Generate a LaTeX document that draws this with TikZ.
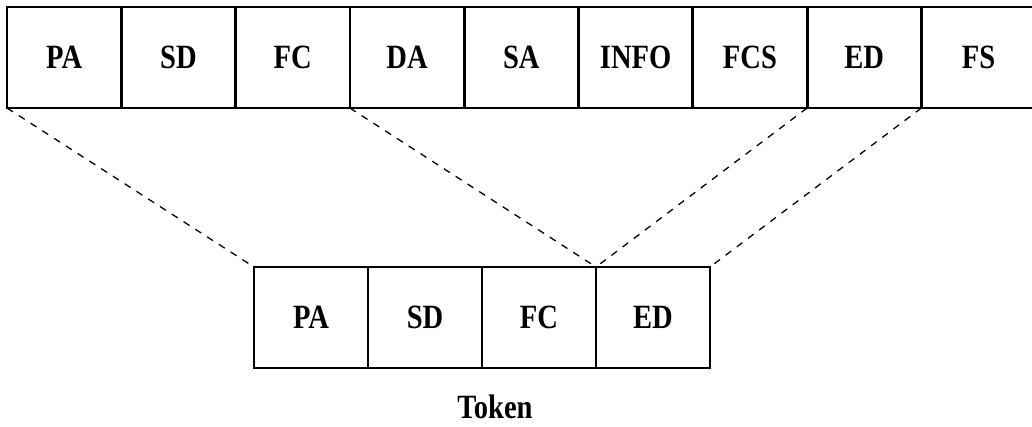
\documentclass[tikz,border=0pt]{standalone}
\usepackage{fontspec}
\setmainfont{Liberation Serif}
\newfontfamily\lblfont[FakeStretch=0.84]{Liberation Serif}
\begin{document}
\begin{tikzpicture}[x=1pt,y=-1pt,
  lbl/.style={font=\lblfont\fontsize{34}{37}\selectfont\bfseries},
  cell/.style={lbl,draw=black,line width=2.8pt,minimum width=114.3pt,minimum height=101pt,inner sep=0pt,outer sep=0pt},
  cell2/.style={cell,minimum width=114pt},
  link/.style={draw=black,line width=1.3pt,dash pattern=on 7pt off 7pt}]
\useasboundingbox (0,0) rectangle (1032,427);
\foreach \t [count=\i] in {PA,SD,FC,DA,SA,INFO,FCS,ED,FS}{
  \node[cell] (t\i) at ({7+57.15+(\i-1)*114.3},57.5) {\t};
}
\foreach \t [count=\i] in {PA,SD,FC,ED}{
  \node[cell2] (b\i) at ({254+57+(\i-1)*114},317.5) {\t};
}
\node[lbl,anchor=base,inner sep=0pt] (tok) at (495,418) {Token};
\draw[link] (t1.south west) -- (b1.north west);
\draw[link] (t4.south west) -- (b4.north west);
\draw[link] (t8.south west) -- (b4.north west);
\draw[link] (t9.south west) -- (b4.north east);
\end{tikzpicture}
\end{document}
